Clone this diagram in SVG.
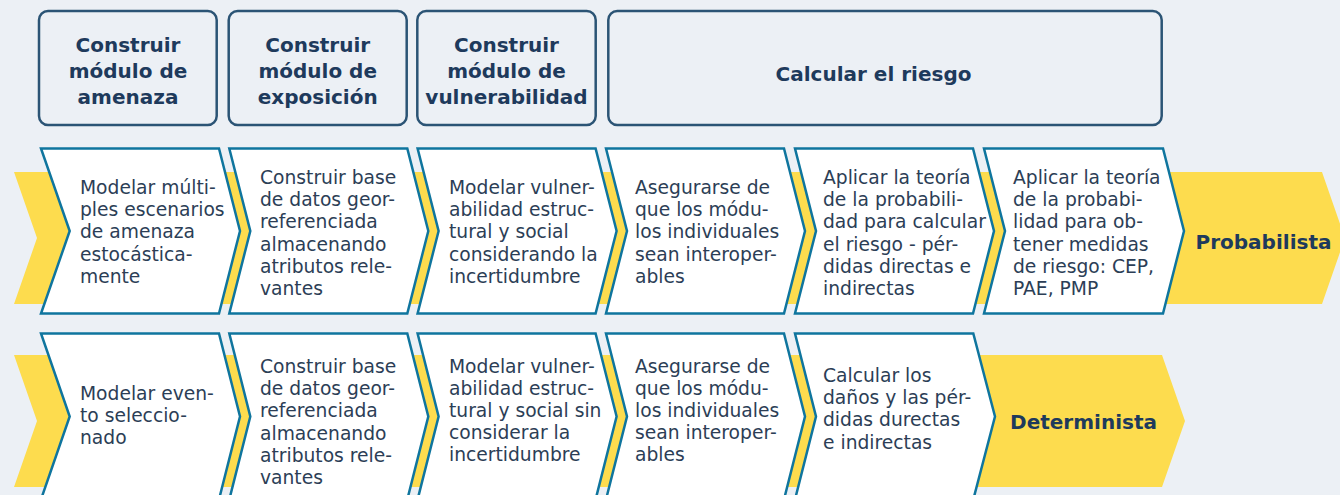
<svg xmlns="http://www.w3.org/2000/svg" width="1340" height="495" viewBox="0 0 1340 495">
<style>
.bg{fill:#ecf0f5}
.hdr{fill:#ecf0f5;stroke:#2b5475;stroke-width:2.5}
.ht{font-family:"DejaVu Sans",sans-serif;font-weight:bold;font-size:20px;fill:#1e3a5c;text-anchor:middle}
.band{fill:#fddc4e}
.chev{fill:#ffffff;stroke:#0f759e;stroke-width:2.5;stroke-linejoin:miter}
.bt{font-family:"DejaVu Sans",sans-serif;font-size:18.7px;fill:#2c3e56}
.lab{font-family:"DejaVu Sans",sans-serif;font-weight:bold;font-size:20px;fill:#1e3a5c;text-anchor:middle}
</style>
<rect class="bg" x="0" y="0" width="1340" height="495"/>

<g id="header-amenaza">
<rect class="hdr" x="39" y="11" width="177.7" height="114" rx="9"/>
<text class="ht"><tspan x="128" y="52">Construir</tspan><tspan x="128" y="78">módulo de</tspan><tspan x="128" y="104">amenaza</tspan></text>
</g>
<g id="header-exposicion">
<rect class="hdr" x="228.7" y="11" width="178" height="114" rx="9"/>
<text class="ht"><tspan x="317.7" y="52">Construir</tspan><tspan x="317.7" y="78">módulo de</tspan><tspan x="317.7" y="104">exposición</tspan></text>
</g>
<g id="header-vulnerabilidad">
<rect class="hdr" x="417.3" y="11" width="178.4" height="114" rx="9"/>
<text class="ht"><tspan x="506.5" y="52">Construir</tspan><tspan x="506.5" y="78">módulo de</tspan><tspan x="506.5" y="104">vulnerabilidad</tspan></text>
</g>
<g id="header-riesgo">
<rect class="hdr" x="608.3" y="11" width="553.4" height="114" rx="9"/>
<text class="ht" x="873.5" y="81">Calcular el riesgo</text>
</g>

<g id="connectors">
<path id="band-probabilista" class="band" d="M14,172 L1322,172 L1345,238 L1322,304 L14,304 L37,238 Z"/>
<path id="band-determinista" class="band" d="M14,355 L1162,355 L1185,421 L1162,487 L14,487 L37,421 Z"/>
</g>

<g id="p1">
<path class="chev" d="M41,148.5 L219,148.5 L240,231 L219,313.5 L41,313.5 L69.7,231 Z"/>
<text class="bt"><tspan x="80" y="194">Modelar múlti-</tspan><tspan x="80" y="216.2">ples escenarios</tspan><tspan x="80" y="238.4">de amenaza</tspan><tspan x="80" y="260.6">estocástica-</tspan><tspan x="80" y="282.8">mente</tspan></text>
</g>
<g id="p2">
<path class="chev" d="M229.3,148.5 L407.3,148.5 L428.3,231 L407.3,313.5 L229.3,313.5 L250.3,231 Z"/>
<text class="bt"><tspan x="260" y="184">Construir base</tspan><tspan x="260" y="206.2">de datos geor-</tspan><tspan x="260" y="228.4">referenciada</tspan><tspan x="260" y="250.6">almacenando</tspan><tspan x="260" y="272.8">atributos rele-</tspan><tspan x="260" y="295">vantes</tspan></text>
</g>
<g id="p3">
<path class="chev" d="M417.6,148.5 L595.6,148.5 L616.6,231 L595.6,313.5 L417.6,313.5 L438.6,231 Z"/>
<text class="bt"><tspan x="449" y="194">Modelar vulner-</tspan><tspan x="449" y="216.2">abilidad estruc-</tspan><tspan x="449" y="238.4">tural y social</tspan><tspan x="449" y="260.6">considerando la</tspan><tspan x="449" y="282.8">incertidumbre</tspan></text>
</g>
<g id="p4">
<path class="chev" d="M606,148.5 L784,148.5 L805,231 L784,313.5 L606,313.5 L627,231 Z"/>
<text class="bt"><tspan x="635" y="194">Asegurarse de</tspan><tspan x="635" y="216.2">que los módu-</tspan><tspan x="635" y="238.4">los individuales</tspan><tspan x="635" y="260.6">sean interoper-</tspan><tspan x="635" y="282.8">ables</tspan></text>
</g>
<g id="p5">
<path class="chev" d="M795,148.5 L973,148.5 L994,231 L973,313.5 L795,313.5 L816,231 Z"/>
<text class="bt"><tspan x="823" y="184">Aplicar la teoría</tspan><tspan x="823" y="206.2">de la probabili-</tspan><tspan x="823" y="228.4">dad para calcular</tspan><tspan x="823" y="250.6">el riesgo - pér-</tspan><tspan x="823" y="272.8">didas directas e</tspan><tspan x="823" y="295">indirectas</tspan></text>
</g>
<g id="p6">
<path class="chev" d="M984,148.5 L1163,148.5 L1184,231 L1163,313.5 L984,313.5 L1005,231 Z"/>
<text class="bt"><tspan x="1013" y="184">Aplicar la teoría</tspan><tspan x="1013" y="206.2">de la probabi-</tspan><tspan x="1013" y="228.4">lidad para ob-</tspan><tspan x="1013" y="250.6">tener medidas</tspan><tspan x="1013" y="272.8">de riesgo: CEP,</tspan><tspan x="1013" y="295">PAE, PMP</tspan></text>
</g>
<g id="probabilista">
<text class="lab" x="1263.5" y="249">Probabilista</text>
</g>

<g id="d1">
<path class="chev" d="M41,333.5 L219,333.5 L240,416.5 L219,499.5 L41,499.5 L69.7,416.5 Z"/>
<text class="bt"><tspan x="80" y="400">Modelar even-</tspan><tspan x="80" y="422.2">to seleccio-</tspan><tspan x="80" y="444.4">nado</tspan></text>
</g>
<g id="d2">
<path class="chev" d="M229.3,333.5 L407.3,333.5 L428.3,416.5 L407.3,499.5 L229.3,499.5 L250.3,416.5 Z"/>
<text class="bt"><tspan x="260" y="373">Construir base</tspan><tspan x="260" y="395.2">de datos geor-</tspan><tspan x="260" y="417.4">referenciada</tspan><tspan x="260" y="439.6">almacenando</tspan><tspan x="260" y="461.8">atributos rele-</tspan><tspan x="260" y="484">vantes</tspan></text>
</g>
<g id="d3">
<path class="chev" d="M417.6,333.5 L595.6,333.5 L616.6,416.5 L595.6,499.5 L417.6,499.5 L438.6,416.5 Z"/>
<text class="bt"><tspan x="449" y="372.5">Modelar vulner-</tspan><tspan x="449" y="394.7">abilidad estruc-</tspan><tspan x="449" y="416.9">tural y social sin</tspan><tspan x="449" y="439.1">considerar la</tspan><tspan x="449" y="461.3">incertidumbre</tspan></text>
</g>
<g id="d4">
<path class="chev" d="M606,333.5 L784,333.5 L805,416.5 L784,499.5 L606,499.5 L627,416.5 Z"/>
<text class="bt"><tspan x="635" y="372.5">Asegurarse de</tspan><tspan x="635" y="394.7">que los módu-</tspan><tspan x="635" y="416.9">los individuales</tspan><tspan x="635" y="439.1">sean interoper-</tspan><tspan x="635" y="461.3">ables</tspan></text>
</g>
<g id="d5">
<path class="chev" d="M795,333.5 L973.3,333.5 L995,416.5 L973.3,499.5 L795,499.5 L816,416.5 Z"/>
<text class="bt"><tspan x="823" y="382">Calcular los</tspan><tspan x="823" y="404.2">daños y las pér-</tspan><tspan x="823" y="426.4">didas durectas</tspan><tspan x="823" y="448.6">e indirectas</tspan></text>
</g>
<g id="determinista">
<text class="lab" x="1083.5" y="429">Determinista</text>
</g>
</svg>
